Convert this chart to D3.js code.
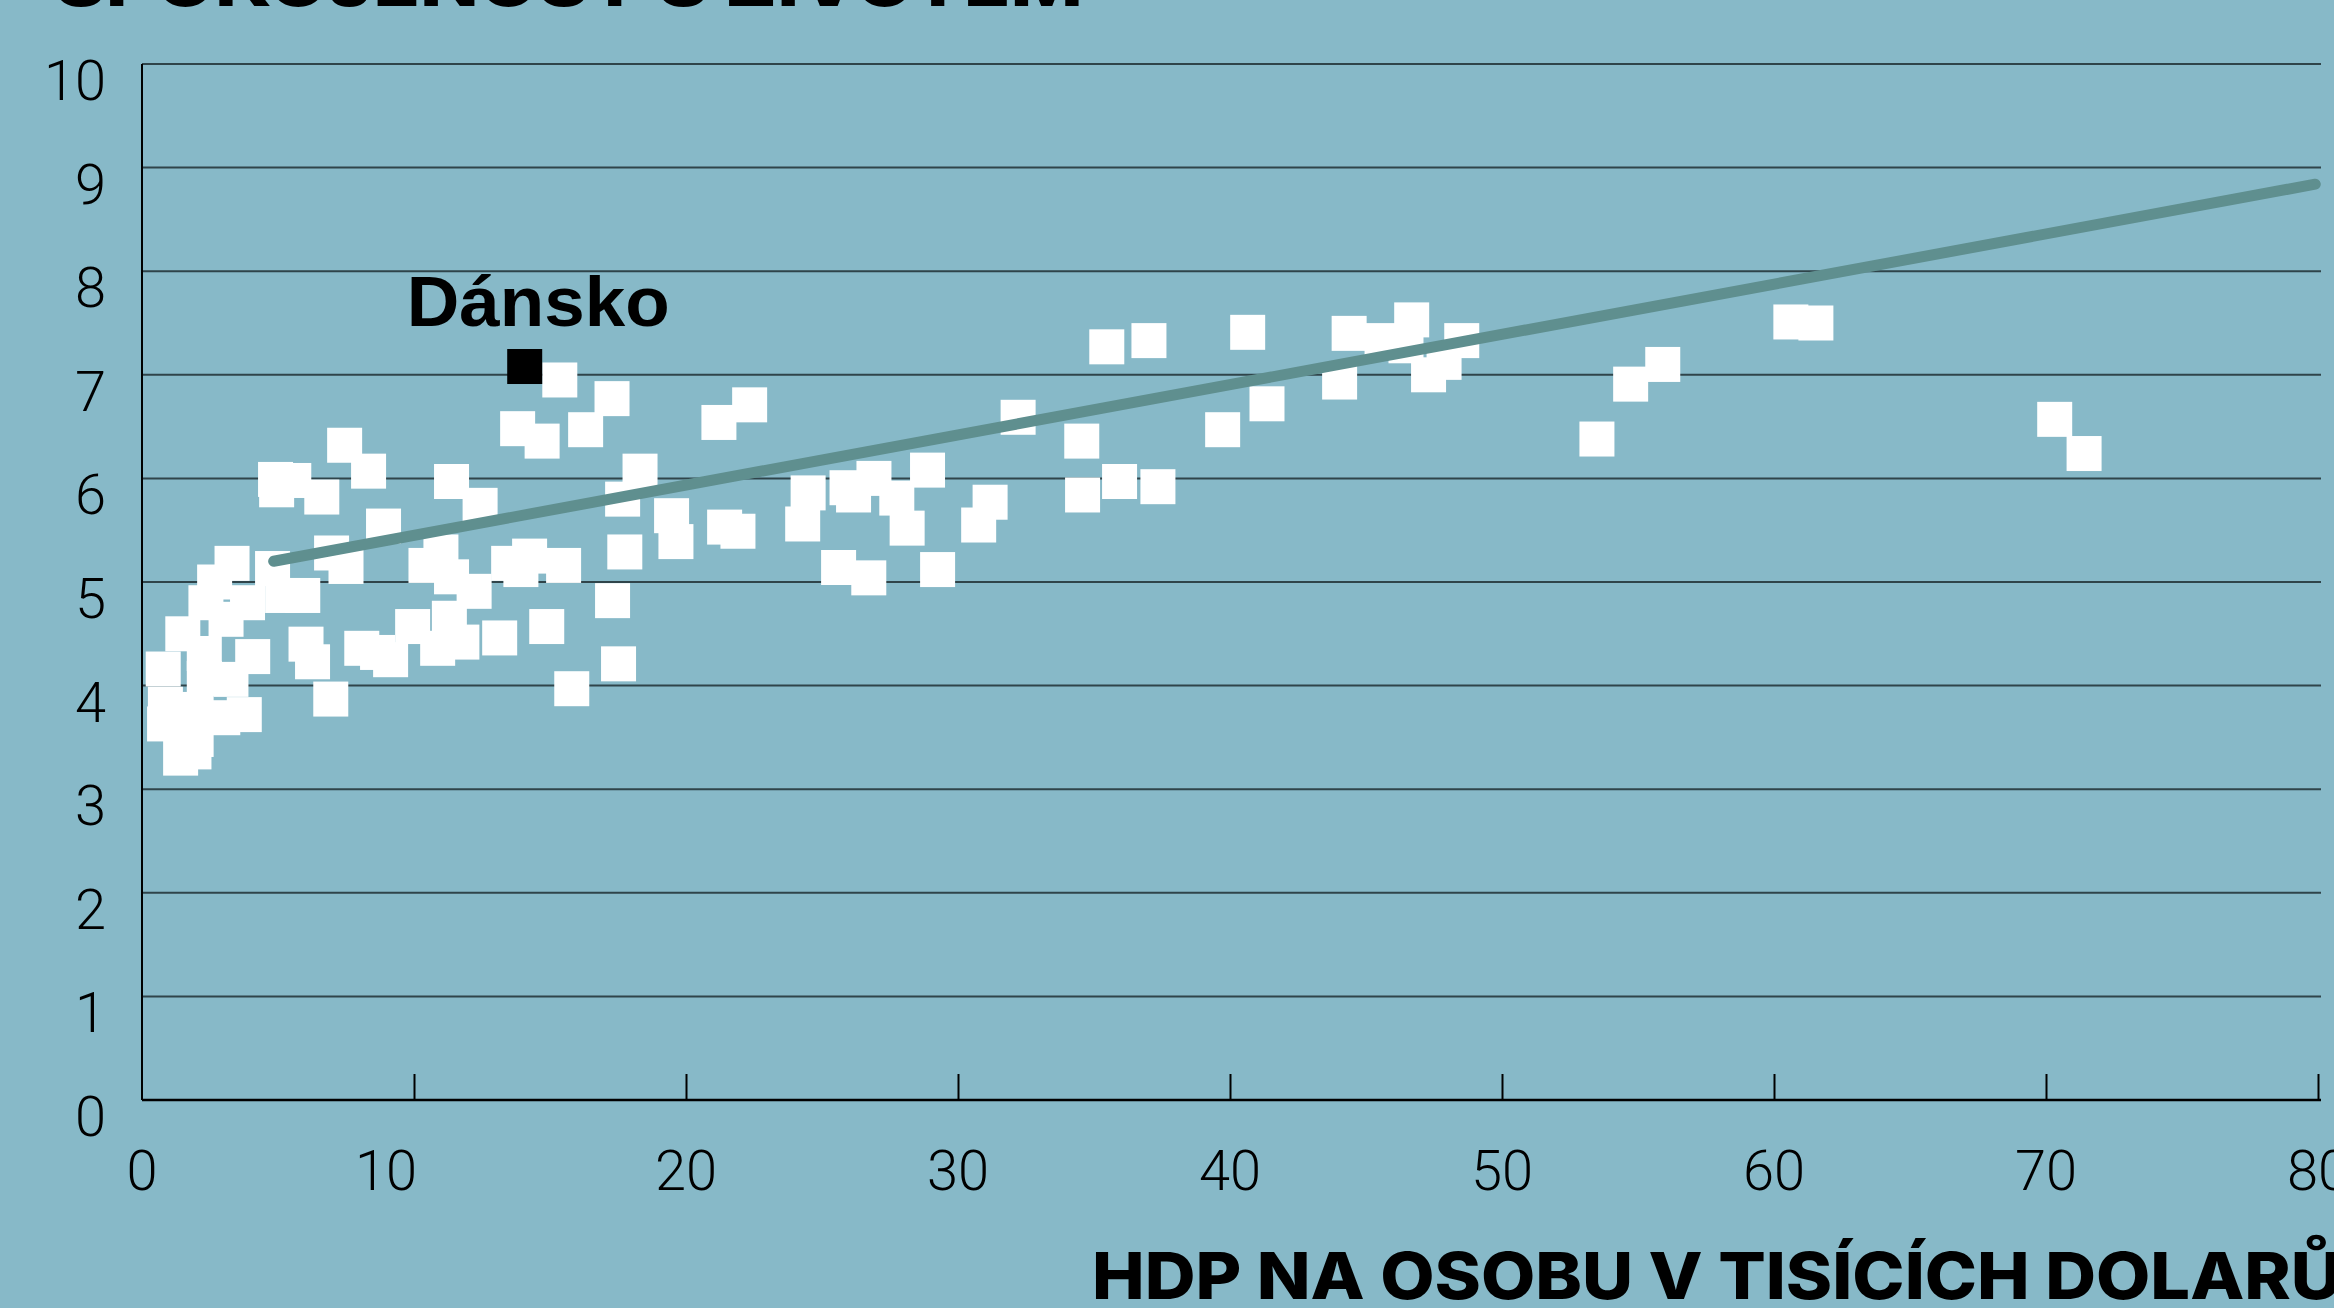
<!DOCTYPE html>
<html>
<head>
<meta charset="utf-8">
<script src="https://cdn.jsdelivr.net/npm/d3@7"></script>
<style>
  html, body { margin: 0; padding: 0; background: #87b9c8; overflow: hidden; }
  svg { display: block; }
</style>
</head>
<body>
<svg id="chart" width="2334" height="1308"></svg>
<script>
// ---- data ----
const gdp = [
  15.36, 17.28, 13.81, 14.71, 16.31, 7.45, 8.33, 4.91, 5.58, 4.95, 6.61, 11.38, 12.43, 18.31, 17.67, 8.88,
  19.47, 19.63,
  6.97, 7.50, 10.99, 10.44, 11.38, 12.21, 14.25, 13.48, 15.50, 13.93, 17.75, 17.30, 17.52, 15.80, 14.88,
  13.15, 11.30, 11.76, 10.87, 9.95, 9.14, 8.66, 8.08, 6.03, 6.27, 6.94,
  3.31, 2.67, 4.80, 5.91, 5.17, 2.35, 3.88, 1.50, 3.09, 0.78, 4.07, 2.29, 3.76, 0.86, 0.83, 1.42, 1.91,
  1.99, 3.27, 1.99, 2.97, 2.29,
  21.21, 22.34, 35.47, 37.02, 32.21, 34.55, 34.58, 35.94, 37.35, 21.42, 21.91, 24.49, 24.29, 25.92, 26.16,
  26.91, 27.75, 28.13, 28.88, 25.61, 26.72, 29.25, 31.18, 30.76,
  40.65, 39.73, 41.36, 44.38, 44.03, 45.59, 46.68, 46.47, 48.52, 47.87, 47.30, 53.49, 54.73, 55.91,
  60.62, 61.54, 70.32, 71.40
];
const satisfaction = [
  6.95, 6.77, 6.48, 6.36, 6.47, 6.32, 6.07, 5.99, 5.98, 5.89, 5.82, 5.97, 5.74, 6.07, 5.80, 5.54,
  5.64, 5.39,
  5.28, 5.15, 5.29, 5.16, 5.05, 4.91, 5.25, 5.18, 5.16, 5.12, 5.29, 4.82, 4.21, 3.97, 4.57,
  4.46, 4.65, 4.42, 4.36, 4.57, 4.25, 4.32, 4.36, 4.40, 4.23, 3.87,
  5.18, 5.00, 5.13, 4.87, 4.87, 4.80, 4.80, 4.50, 4.64, 4.16, 4.28, 4.31, 3.72, 3.82, 3.63, 3.30, 3.36,
  3.48, 4.06, 3.77, 3.69, 4.07,
  6.54, 6.71, 7.27, 7.33, 6.59, 6.36, 5.84, 5.97, 5.92, 5.53, 5.49, 5.86, 5.56, 5.91, 5.84,
  6.00, 5.81, 5.52, 6.08, 5.14, 5.04, 5.12, 5.77, 5.55,
  7.41, 6.47, 6.72, 7.40, 6.93, 7.33, 7.53, 7.28, 7.33, 7.12, 7.00, 6.38, 6.91, 7.10,
  7.51, 7.50, 6.57, 6.24
];
const highlightGdp = [14.07];
const highlightSatisfaction = [7.08];
const highlightLabels = ["Dánsko"];
const trendGdp = [4.84, 79.9];
const trendSatisfaction = [5.2, 8.84];
const xTickValues = [0, 10, 20, 30, 40, 50, 60, 70, 80];
const yTickValues = [0, 1, 2, 3, 4, 5, 6, 7, 8, 9, 10];
const titleText = "SPOKOJENOST S ŽIVOTEM";
const xTitleText = "HDP NA OSOBU V TISÍCÍCH DOLARŮ";

// ---- drawing ----
const svg = d3.select("#chart");
const W = 2334, H = 1308;
svg.append("rect").attr("width", W).attr("height", H).attr("fill", "#87b9c8");

const x = d3.scaleLinear().domain([0, 80]).range([142, 2318]);
const y = d3.scaleLinear().domain([0, 10]).range([1100, 64]);
const plotRight = 2321;

// gridlines
const yAxisG = svg.append("g")
  .attr("transform", `translate(${x(0)},0)`)
  .call(d3.axisLeft(y).tickValues(yTickValues).tickSize(0).tickFormat(""));
yAxisG.select(".domain").remove();
yAxisG.selectAll(".tick line").remove();

svg.append("g").selectAll("line.grid")
  .data(yTickValues.filter(v => v > 0))
  .join("line")
  .attr("x1", x(0)).attr("x2", plotRight)
  .attr("y1", d => y(d)).attr("y2", d => y(d))
  .attr("stroke", "#2f444a").attr("stroke-width", 2);

// y tick labels
svg.append("g").selectAll("text")
  .data(yTickValues)
  .join("text")
  .attr("x", 106)
  .attr("y", d => y(d) + 36)
  .attr("text-anchor", "end")
  .attr("font-family", "Roboto, 'Liberation Sans', sans-serif")
  .attr("font-weight", 300)
  .attr("font-size", 56)
  .attr("fill", "#000")
  .text(d => d);

// x axis with inward ticks
const xAxisG = svg.append("g")
  .attr("transform", `translate(0,${y(0)})`)
  .call(d3.axisBottom(x).tickValues(xTickValues.filter(v => v > 0)).tickSizeInner(-26).tickSizeOuter(0).tickFormat(""));
xAxisG.select(".domain").attr("stroke", "#000").attr("stroke-width", 2.5)
  .attr("d", `M${x(0)},0H${plotRight}`);
xAxisG.selectAll(".tick line").attr("stroke", "#000").attr("stroke-width", 2);

// x tick labels
svg.append("g").selectAll("text")
  .data(xTickValues)
  .join("text")
  .attr("x", d => x(d) + (d === 10 ? -28 : 0))
  .attr("y", 1190)
  .attr("text-anchor", "middle")
  .attr("font-family", "Roboto, 'Liberation Sans', sans-serif")
  .attr("font-weight", 300)
  .attr("font-size", 56)
  .attr("fill", "#000")
  .text(d => d);

// y axis line
svg.append("line")
  .attr("x1", x(0)).attr("x2", x(0))
  .attr("y1", y(10)).attr("y2", y(0))
  .attr("stroke", "#000").attr("stroke-width", 2);

// points
const S = 35;
const pts = gdp.map((g, i) => ({ g, s: satisfaction[i] }));
svg.append("g").selectAll("rect")
  .data(pts)
  .join("rect")
  .attr("x", d => x(d.g) - S / 2)
  .attr("y", d => y(d.s) - S / 2)
  .attr("width", S).attr("height", S)
  .attr("fill", "#ffffff");

// highlight
const hl = highlightGdp.map((g, i) => ({ g, s: highlightSatisfaction[i], label: highlightLabels[i] }));
svg.append("g").selectAll("rect")
  .data(hl)
  .join("rect")
  .attr("x", d => x(d.g) - S / 2)
  .attr("y", d => y(d.s) - S / 2)
  .attr("width", S).attr("height", S)
  .attr("fill", "#000");
svg.append("g").selectAll("text")
  .data(hl)
  .join("text")
  .attr("x", d => x(d.g) - 118)
  .attr("y", d => y(d.s) - 41)
  .attr("font-family", "'Liberation Sans', Arial, sans-serif")
  .attr("font-weight", 700)
  .attr("font-size", 71)
  .attr("textLength", 263)
  .attr("lengthAdjust", "spacingAndGlyphs")
  .attr("fill", "#000")
  .text(d => d.label);

// trend line
const trend = trendGdp.map((g, i) => [g, trendSatisfaction[i]]);
svg.append("path")
  .datum(trend)
  .attr("d", d3.line().x(d => x(d[0])).y(d => y(d[1])))
  .attr("fill", "none")
  .attr("stroke", "#5f8f8f")
  .attr("stroke-width", 11)
  .attr("stroke-linecap", "round");

// titles
svg.append("text")
  .attr("x", 55).attr("y", 6)
  .attr("font-family", "Inter, 'Liberation Sans', sans-serif")
  .attr("font-weight", 800)
  .attr("font-size", 66)
  .attr("textLength", 1028)
  .attr("lengthAdjust", "spacingAndGlyphs")
  .attr("fill", "#000")
  .text(titleText);

svg.append("text")
  .attr("x", 1092).attr("y", 1299)
  .attr("font-family", "Inter, 'Liberation Sans', sans-serif")
  .attr("font-weight", 800)
  .attr("font-size", 65)
  .attr("textLength", 1250)
  .attr("lengthAdjust", "spacingAndGlyphs")
  .attr("fill", "#000")
  .text(xTitleText);
</script>
</body>
</html>
